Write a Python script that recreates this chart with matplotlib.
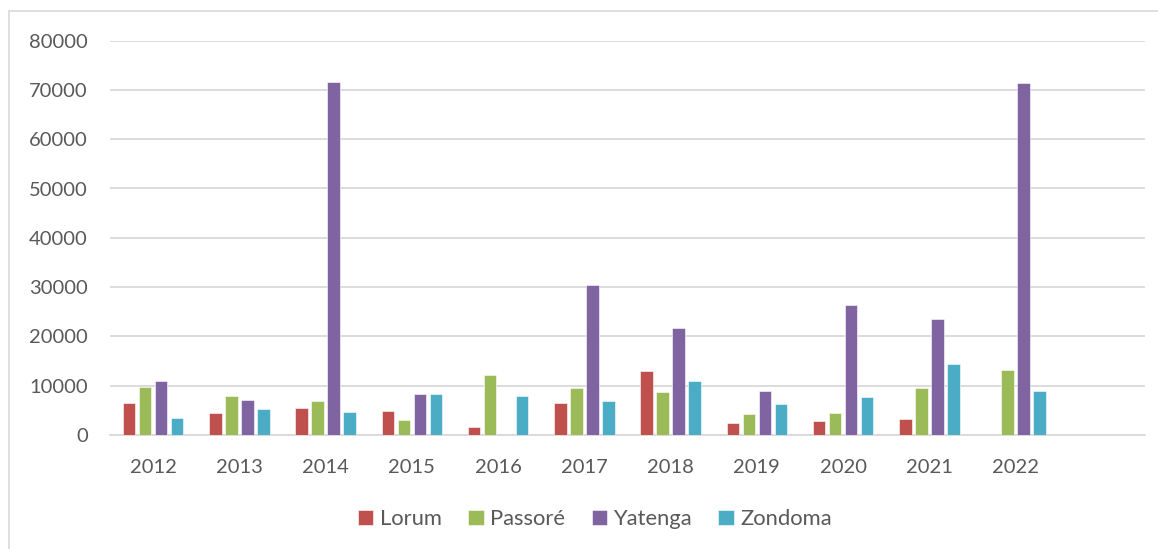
import matplotlib
matplotlib.use("Agg")
import matplotlib.pyplot as plt
import numpy as np
from matplotlib.patches import Rectangle

categories = ["2012", "2013", "2014", "2015", "2016", "2017", "2018", "2019", "2020", "2021", "2022", ""]
lorum =    [6400, 4400, 5450, 4950, 1700, 6500, 13000, 2350, 2750, 3250, 0, 0]
passore =  [9800, 7950, 6950, 3050, 12200, 9500, 8750, 4300, 4450, 9500, 13100, 0]
yatenga =  [11050, 7200, 71700, 8350, 0, 30400, 21650, 8950, 26350, 23500, 71300, 0]
zondoma =  [3400, 5250, 4650, 8350, 7850, 6950, 10950, 6300, 7650, 14500, 8950, 0]
series_names = ["Lorum", "Passoré", "Yatenga", "Zondoma"]
colors = ["#C0504D", "#9BBB59", "#8064A2", "#4BACC6"]

plt.rcParams['font.family'] = ['Lato', 'DejaVu Sans']

W, H = 1158, 549
fig = plt.figure(figsize=(W / 100, H / 100), dpi=100)
fig.patches.append(Rectangle((9 / W, -0.1), 1.2, 1 - 11 / H + 0.1, transform=fig.transFigure,
                             fill=False, edgecolor="#D9D9D9", linewidth=1.2))

ax = fig.add_axes([110 / W, 1 - 435 / H, (1145 - 110) / W, (435 - 40.6) / H])
x = np.arange(len(categories))
stride = 0.185
bw = 0.145
data = [lorum, passore, yatenga, zondoma]
handles = []
for i, (vals, c, name) in enumerate(zip(data, colors, series_names)):
    b = ax.bar(x + (i - 1.5) * stride, vals, width=bw, color=c, edgecolor="white",
               linewidth=0.4, label=name, zorder=3)
    handles.append(b)

ax.set_xlim(-0.5, len(categories) - 0.5)
ax.set_ylim(0, 80000)
ax.set_yticks(np.arange(0, 80001, 10000))
ax.set_yticklabels([str(v) for v in range(0, 80001, 10000)])
ax.set_xticks(x)
ax.set_xticklabels(categories)
ax.yaxis.grid(True, color="#D9D9D9", linewidth=1.3, zorder=0)
ax.set_axisbelow(True)
for s in ["top", "right", "left"]:
    ax.spines[s].set_visible(False)
ax.spines["bottom"].set_color("#D9D9D9")
ax.spines["bottom"].set_linewidth(1.3)
ax.tick_params(axis="both", length=0, labelsize=14.5, labelcolor="#595959")
ax.tick_params(axis="y", pad=16)
ax.tick_params(axis="x", pad=17)

fig.legend(handles=handles, labels=series_names, loc="center",
           bbox_to_anchor=(595 / W, 1 - 519 / H), ncol=4, frameon=False,
           fontsize=15.8, handlelength=0.7, handleheight=0.7, handletextpad=0.3,
           columnspacing=1.2, labelcolor="#595959")

fig.savefig("out.png", dpi=100)
